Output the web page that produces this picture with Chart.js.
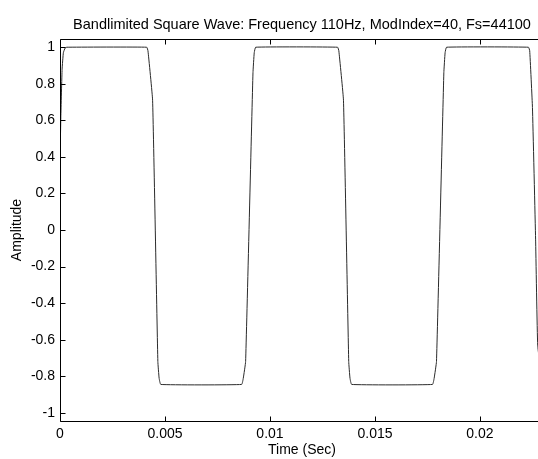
<!DOCTYPE html>
<html>
<head>
<meta charset="utf-8">
<script src="https://cdn.jsdelivr.net/npm/chart.js@4"></script>
<style>
  body { margin: 0; background: #fff; overflow: hidden; }
  #wrap { width: 548px; height: 459px; position: relative; }
</style>
</head>
<body>
<div id="wrap"><canvas id="myChart"></canvas></div>
<script>
// time (s) and amplitude, corners included
let timeSec = [
    0, 0.00004, 0.00010, 0.00016, 0.00024, 0.00032,
    0.00413, 0.00419, 0.00441, 0.00466, 0.00472, 0.00480,
    0.00865, 0.00873, 0.00884, 0.00919, 0.00925, 0.00932,
    0.01322, 0.01328, 0.01350, 0.01375, 0.01381, 0.01389,
    0.01774, 0.01782, 0.01793, 0.01828, 0.01834, 0.01841,
    0.02231, 0.02237, 0.02250, 0.02265, 0.02275, 0.02298, 0.02305
];
let amplitude = [
    0.38, 0.62, 0.88, 0.97, 0.995, 1.0,
    1.0, 0.98, 0.71, -0.72, -0.81, -0.845,
    -0.845, -0.81, -0.72, 0.86, 0.97, 1.0,
    1.0, 0.98, 0.71, -0.72, -0.81, -0.845,
    -0.845, -0.81, -0.72, 0.86, 0.97, 1.0,
    1.0, 0.98, 0.67, -0.05, -0.63, -0.845, -0.845
];
let xTicks = [0, 0.005, 0.01, 0.015, 0.02];
let xTickLabels = ['0', '0.005', '0.01', '0.015', '0.02'];
let yTicks = [-1, -0.8, -0.6, -0.4, -0.2, 0, 0.2, 0.4, 0.6, 0.8, 1];
let yTickLabels = ['-1', '-0.8', '-0.6', '-0.4', '-0.2', '0', '0.2', '0.4', '0.6', '0.8', '1'];
let titleText = 'Bandlimited Square Wave: Frequency 110Hz, ModIndex=40, Fs=44100';

let points = [];
for (let i = 0; i < timeSec.length; i++) {
    points.push({ x: timeSec[i], y: amplitude[i] });
}

Chart.defaults.font.family = "'Liberation Sans', Arial, sans-serif";
Chart.defaults.color = '#000';

// matlab style box, inward ticks and a title centred over the axes
let boxTicks = {
    id: 'boxTicks',
    afterDraw(chart) {
        let ctx = chart.ctx;
        let a = chart.chartArea;
        let xs = chart.scales.x;
        let ys = chart.scales.y;
        let L = Math.round(a.left) + 0.5;
        let R = Math.round(a.right) + 0.5;
        let T = Math.round(a.top) + 0.5;
        let B = Math.round(a.bottom) + 0.5;
        ctx.save();
        ctx.strokeStyle = '#000';
        ctx.lineWidth = 1;
        ctx.beginPath();
        ctx.rect(L, T, R - L, B - T);
        for (let i = 0; i < xTicks.length; i++) {
            let px = Math.round(xs.getPixelForValue(xTicks[i])) + 0.5;
            ctx.moveTo(px, B); ctx.lineTo(px, B - 5);
            ctx.moveTo(px, T); ctx.lineTo(px, T + 5);
        }
        for (let i = 0; i < yTicks.length; i++) {
            let py = Math.round(ys.getPixelForValue(yTicks[i])) + 0.5;
            ctx.moveTo(L, py); ctx.lineTo(L + 5, py);
            ctx.moveTo(R, py); ctx.lineTo(R - 5, py);
        }
        ctx.stroke();

        ctx.fillStyle = '#000';
        ctx.font = "14.5px 'Liberation Sans', Arial, sans-serif";
        ctx.textAlign = 'center';
        ctx.textBaseline = 'alphabetic';
        ctx.fillText(titleText, (a.left + a.right) / 2, a.top - 10);
        ctx.restore();
    }
};

let ctx = document.getElementById('myChart').getContext('2d');
let myChart = new Chart(ctx, {
    type: 'line',
    data: {
        datasets: [{
            data: points,
            borderColor: '#2a2a2a',
            borderWidth: 1,
            pointRadius: 0,
            tension: 0.1,
            fill: false
        }]
    },
    options: {
        responsive: true,
        maintainAspectRatio: false,
        animation: false,
        layout: { padding: { left: 0, right: 4, top: 39, bottom: 0 } },
        plugins: {
            legend: { display: false },
            tooltip: { enabled: false },
            title: { display: false }
        },
        scales: {
            x: {
                type: 'linear',
                min: 0,
                max: 0.02305,
                grid: { display: false, drawTicks: false },
                border: { display: false },
                afterFit(scale) { scale.height = 38; },
                afterBuildTicks(scale) {
                    scale.ticks = xTicks.map(v => ({ value: v }));
                },
                ticks: {
                    padding: 5,
                    maxRotation: 0,
                    font: { size: 14 },
                    callback: (v) => xTickLabels[xTicks.indexOf(v)]
                },
                title: {
                    display: true,
                    text: 'Time (Sec)',
                    font: { size: 14 },
                    padding: { top: 0, bottom: 0 }
                }
            },
            y: {
                type: 'linear',
                min: -1.045,
                max: 1.045,
                grid: { display: false, drawTicks: false },
                border: { display: false },
                afterFit(scale) { scale.width = 60; },
                afterBuildTicks(scale) {
                    scale.ticks = yTicks.map(v => ({ value: v }));
                },
                ticks: {
                    padding: 5,
                    font: { size: 14 },
                    callback: (v) => yTickLabels[yTicks.indexOf(v)]
                },
                title: {
                    display: true,
                    text: 'Amplitude',
                    font: { size: 14 },
                    padding: { top: 9, bottom: 0 }
                }
            }
        }
    },
    plugins: [boxTicks]
});
</script>
</body>
</html>
